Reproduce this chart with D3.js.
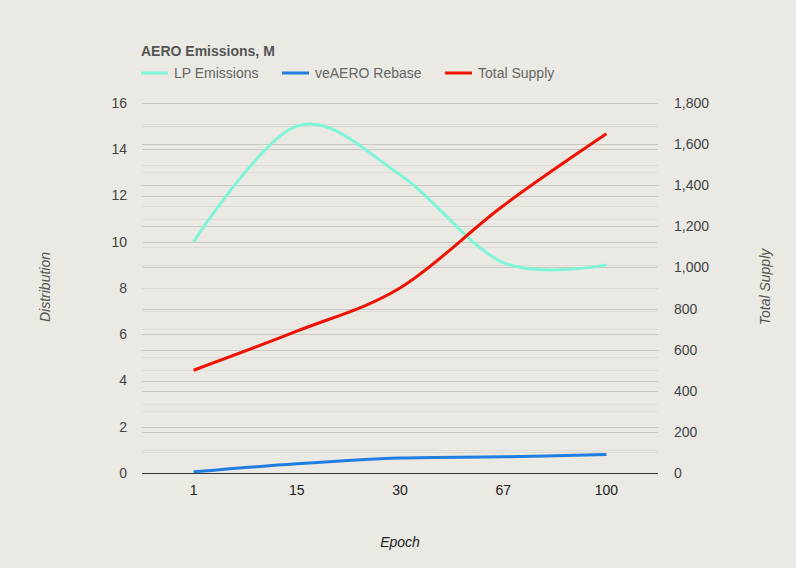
<!DOCTYPE html>
<html>
<head>
<meta charset="utf-8">
<script src="https://cdn.jsdelivr.net/npm/d3@7"></script>
<style>
  html, body { margin: 0; padding: 0; background: #eae9e4; }
  svg { display: block; font-family: Arial, "Liberation Sans", sans-serif; }
</style>
</head>
<body>
<svg id="chart" width="796" height="568"></svg>
<script>
const epochs = ["1", "15", "30", "67", "100"];
const lpEmissions = [10.0, 15.0, 12.9, 9.1, 9.0];
const veAeroRebase = [0.05, 0.4, 0.65, 0.7, 0.8];
const totalSupply = [500, 690, 900, 1300, 1650];
const leftTicks = [0, 2, 4, 6, 8, 10, 12, 14, 16];
const leftMinor = [1, 3, 5, 7, 9, 11, 13, 15];
const rightTicks = [0, 200, 400, 600, 800, 1000, 1200, 1400, 1600, 1800];
const rightMinor = [100, 300, 500, 700, 900, 1100, 1300, 1500, 1700];
const seriesNames = ["LP Emissions", "veAERO Rebase", "Total Supply"];
const seriesColors = ["#7ef5d6", "#1f7ee0", "#f01200"];

const svg = d3.select("#chart");
const W = 796, H = 568;
svg.append("rect").attr("width", W).attr("height", H).attr("fill", "#eae9e4");

const m = { left: 142, right: 658, top: 103, bottom: 473 };

const x = d3.scaleBand().domain(epochs).range([m.left, m.right]);
const yL = d3.scaleLinear().domain([0, 16]).range([m.bottom, m.top]);
const yR = d3.scaleLinear().domain([0, 1800]).range([m.bottom, m.top]);

const grid = svg.append("g");
function hlines(vals, scale, color) {
  grid.append("g").selectAll("line").data(vals).join("line")
    .attr("x1", m.left).attr("x2", m.right)
    .attr("y1", d => Math.round(scale(d)) + 0.5)
    .attr("y2", d => Math.round(scale(d)) + 0.5)
    .attr("stroke", color).attr("stroke-width", 1);
}
hlines(leftMinor, yL, "#dcdbd7");
hlines(leftTicks.filter(d => d !== 0), yL, "#c9c8c5");
hlines(rightTicks.filter(d => d !== 0), yR, "#c9c8c5");
hlines(rightMinor, yR, "#dcdbd7");

// Left axis
const axL = d3.axisLeft(yL).tickValues(leftTicks).tickSize(0).tickPadding(15);
const gL = svg.append("g").attr("transform", `translate(${m.left},0)`).call(axL);
gL.select(".domain").remove();
gL.selectAll("text").attr("font-size", 14).attr("fill", "#444").attr("font-family", "Arial, 'Liberation Sans', sans-serif");

// Right axis
const axR = d3.axisRight(yR).tickValues(rightTicks).tickSize(0).tickPadding(16).tickFormat(d3.format(","));
const gR = svg.append("g").attr("transform", `translate(${m.right},0)`).call(axR);
gR.select(".domain").remove();
gR.selectAll("text").attr("font-size", 14).attr("fill", "#444").attr("font-family", "Arial, 'Liberation Sans', sans-serif");

// Bottom axis
const axB = d3.axisBottom(x).tickSize(0).tickPadding(12);
const gB = svg.append("g").attr("transform", `translate(0,${m.bottom})`).call(axB);
gB.select(".domain").remove();
gB.selectAll("text").attr("font-size", 14).attr("fill", "#222").attr("font-family", "Arial, 'Liberation Sans', sans-serif");

// Baseline
svg.append("line").attr("x1", m.left).attr("x2", m.right)
  .attr("y1", yL(0) + 0.5).attr("y2", yL(0) + 0.5)
  .attr("stroke", "#333").attr("stroke-width", 1);

// Lines
const cx = (d, i) => x(epochs[i]) + x.bandwidth() / 2;
const curve = d3.curveCardinal.tension(0);
const lineL = d3.line().x(cx).y(d => yL(d)).curve(curve);
const lineR = d3.line().x(cx).y(d => yR(d)).curve(curve);

svg.append("path").attr("d", lineL(veAeroRebase)).attr("fill", "none")
  .attr("stroke", seriesColors[1]).attr("stroke-width", 3);
svg.append("path").attr("d", lineL(lpEmissions)).attr("fill", "none")
  .attr("stroke", seriesColors[0]).attr("stroke-width", 3);
svg.append("path").attr("d", lineR(totalSupply)).attr("fill", "none")
  .attr("stroke", seriesColors[2]).attr("stroke-width", 3);

// Title
svg.append("text").attr("x", 141).attr("y", 56)
  .attr("font-size", 14).attr("font-weight", "bold").attr("fill", "#555")
  .text("AERO Emissions, M");

// Legend
const legendX = [141, 282, 445];
const lg = svg.append("g");
seriesNames.forEach((name, i) => {
  lg.append("line").attr("x1", legendX[i]).attr("x2", legendX[i] + 27)
    .attr("y1", 73).attr("y2", 73)
    .attr("stroke", seriesColors[i]).attr("stroke-width", 3);
  lg.append("text").attr("x", legendX[i] + 33).attr("y", 78)
    .attr("font-size", 14).attr("fill", "#666").text(name);
});

// Axis titles
svg.append("text").attr("transform", "translate(50,287) rotate(-90)")
  .attr("text-anchor", "middle").attr("font-size", 14).attr("font-style", "italic")
  .attr("fill", "#555").text("Distribution");
svg.append("text").attr("transform", "translate(770,287) rotate(-90)")
  .attr("text-anchor", "middle").attr("font-size", 14).attr("font-style", "italic")
  .attr("fill", "#555").text("Total Supply");
svg.append("text").attr("x", 400).attr("y", 547)
  .attr("text-anchor", "middle").attr("font-size", 14).attr("font-style", "italic")
  .attr("fill", "#222").text("Epoch");
</script>
</body>
</html>
